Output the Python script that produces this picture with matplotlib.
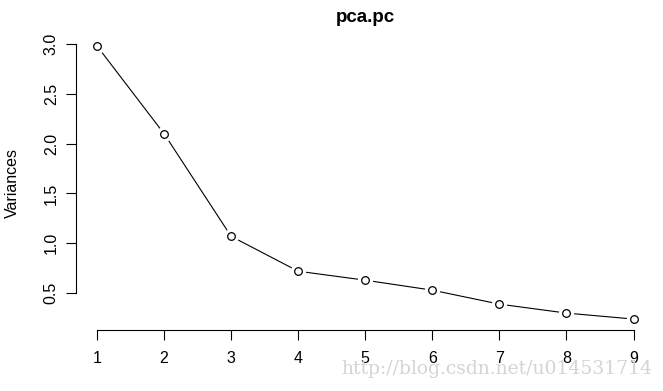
import numpy as np
import matplotlib.pyplot as plt

components = [1, 2, 3, 4, 5, 6, 7, 8, 9]
variances = [2.98, 2.10, 1.07, 0.72, 0.63, 0.53, 0.39, 0.30, 0.24]
y_ticks = [0.5, 1.0, 1.5, 2.0, 2.5, 3.0]

plt.rcParams['font.family'] = ['Liberation Sans', 'DejaVu Sans']

fig = plt.figure(figsize=(6.63, 3.91), dpi=100)
ax = fig.add_axes([75.5 / 663, 61 / 391, 579.5 / 663, 295 / 391])

# R style type="b": line with gaps around the points
ax.plot(components, variances, color='black', lw=0.8, zorder=1)
ax.plot(components, variances, 'o', ms=11, mfc='white', mec='none', zorder=2)
ax.plot(components, variances, 'o', ms=5.5, mfc='white', mec='black', mew=0.9, zorder=3)

pad_x = 0.04 * (max(components) - min(components))
pad_y = 0.04 * (max(variances) - min(variances))
ax.set_xlim(min(components) - pad_x, max(components) + pad_x)
ax.set_ylim(min(variances) - pad_y, max(variances) + pad_y)

for s in ['top', 'right']:
    ax.spines[s].set_visible(False)
ax.spines['left'].set_bounds(y_ticks[0], y_ticks[-1])
ax.spines['bottom'].set_bounds(components[0], components[-1])
for s in ['left', 'bottom']:
    ax.spines[s].set_linewidth(0.8)

ax.set_xticks(components)
ax.set_yticks(y_ticks)
ax.set_yticklabels([f"{v:.1f}" for v in y_ticks], rotation=90, va='center')
ax.tick_params(axis='both', length=7, width=0.8, labelsize=11.5, pad=6)
ax.tick_params(axis='x', pad=8)
ax.tick_params(axis='y', pad=5)

ax.set_ylabel('Variances', fontsize=11.5, labelpad=17)
fig.text(0.5 * (75.5 + 655) / 663, 1 - 17 / 391, 'pca.pc', ha='center', va='center',
         fontsize=13.5, fontweight='bold')

fig.text(652 / 663, 1 - 369 / 391, 'http://blog.csdn.net/u014531714', ha='right', va='center',
         fontsize=13.5, color='#d4d4d4', family='DejaVu Serif')

fig.savefig('out.png', dpi=100)
